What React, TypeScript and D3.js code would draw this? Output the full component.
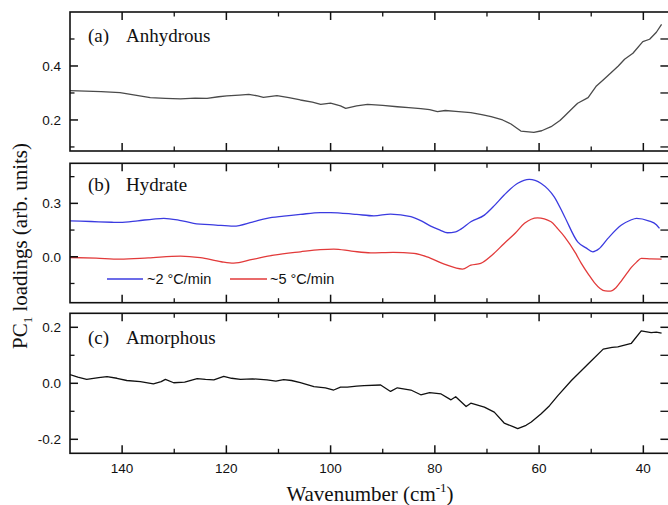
import React from "react";
import * as d3 from "d3";

// ---------- data (wavenumber cm^-1, PC1 loading) ----------
const anhydrousWave = [150, 147, 144, 140.4, 137.5, 134.6, 131.7, 128.8, 126, 123.7, 121.5, 119.9, 117.5, 115.7, 114, 112.9, 110.3, 108, 105.8, 103.5, 101.9, 100, 98.1, 97.1, 95, 92.9, 90, 87.2, 85, 82.7, 81, 79.5, 78, 76, 73.1, 71, 69.2, 67, 65.4, 63.5, 61, 59.5, 57.7, 56, 55.1, 53.5, 52.6, 50.6, 49, 47.5, 46.2, 44.8, 43.6, 42, 40.1, 38.8, 37.5, 36.5];
const anhydrousVal = [0.309, 0.307, 0.305, 0.301, 0.292, 0.283, 0.28, 0.278, 0.281, 0.28, 0.286, 0.289, 0.292, 0.295, 0.289, 0.284, 0.29, 0.283, 0.274, 0.266, 0.258, 0.262, 0.252, 0.243, 0.252, 0.258, 0.254, 0.249, 0.246, 0.242, 0.238, 0.231, 0.235, 0.232, 0.227, 0.22, 0.212, 0.2, 0.185, 0.159, 0.154, 0.16, 0.175, 0.198, 0.215, 0.245, 0.262, 0.283, 0.326, 0.352, 0.375, 0.4, 0.425, 0.447, 0.49, 0.499, 0.525, 0.554];

const hydrate2Wave = [150, 146, 142, 140.4, 137, 134, 132, 129, 126.3, 122, 118.6, 115, 112.2, 109, 105.8, 102, 100, 98.1, 95, 91.7, 88.5, 84.6, 82.5, 80.8, 79, 77.6, 76, 75, 73.1, 70.5, 68.5, 66.7, 64.1, 61.9, 59.6, 58.3, 57.1, 55.1, 52.6, 51, 49.7, 48.5, 46.8, 44.2, 42.5, 41.3, 39, 37.5, 36.9];
const hydrate2Val = [0.202, 0.198, 0.194, 0.193, 0.202, 0.212, 0.216, 0.205, 0.188, 0.178, 0.172, 0.195, 0.216, 0.228, 0.238, 0.248, 0.248, 0.245, 0.238, 0.23, 0.24, 0.225, 0.2, 0.172, 0.15, 0.135, 0.14, 0.155, 0.197, 0.234, 0.29, 0.347, 0.413, 0.435, 0.412, 0.38, 0.337, 0.225, 0.084, 0.05, 0.028, 0.045, 0.103, 0.178, 0.205, 0.216, 0.202, 0.18, 0.159];

const hydrate5Wave = [150, 145, 140.4, 135, 128.8, 125, 121, 118.6, 115, 110.9, 105.8, 102, 99.4, 96, 92.3, 88, 84, 81.5, 78.2, 74.7, 73.1, 71.2, 69, 66.7, 64.5, 62.8, 60.3, 57.7, 56.5, 55.1, 53, 51.9, 50.5, 49.4, 48.3, 47.3, 46.3, 45.3, 44.2, 43.2, 42.3, 41.3, 40.4, 38.5, 36.5];
const hydrate5Val = [-0.004, -0.008, -0.013, -0.006, 0.004, -0.005, -0.028, -0.036, -0.015, 0.009, 0.028, 0.04, 0.043, 0.032, 0.022, 0.025, 0.019, 0.0, -0.041, -0.069, -0.047, -0.037, 0.01, 0.075, 0.135, 0.188, 0.219, 0.197, 0.16, 0.112, 0.02, -0.037, -0.1, -0.145, -0.178, -0.192, -0.193, -0.175, -0.135, -0.095, -0.06, -0.03, -0.009, -0.012, -0.013];

const amorphousWave = [150, 148.5, 146.8, 144.5, 142.9, 141, 139.1, 136.5, 134, 132.5, 131.7, 130.1, 128, 125.6, 124, 122.4, 120.5, 119, 117.3, 115, 112.2, 110.5, 109, 107.5, 105.8, 103.2, 101, 99.4, 98.1, 96.8, 95, 93.6, 90.4, 88.5, 87.2, 84.6, 82.7, 81, 78.8, 76.9, 76, 74, 73.1, 70.5, 68.6, 66.7, 65, 64.1, 62.5, 61.5, 59.6, 58, 56.4, 53.8, 50.6, 47.7, 46, 44.9, 42.3, 40.4, 38.5, 37.5, 36.5];
const amorphousVal = [0.031, 0.022, 0.014, 0.02, 0.024, 0.018, 0.01, 0.006, -0.002, 0.006, 0.014, 0.002, 0.004, 0.017, 0.014, 0.012, 0.025, 0.018, 0.014, 0.016, 0.012, 0.008, 0.013, 0.01, 0.002, -0.012, -0.016, -0.024, -0.014, -0.014, -0.01, -0.008, -0.006, -0.029, -0.016, -0.024, -0.041, -0.033, -0.038, -0.059, -0.048, -0.083, -0.071, -0.085, -0.103, -0.142, -0.155, -0.162, -0.15, -0.138, -0.109, -0.08, -0.044, 0.01, 0.069, 0.122, 0.128, 0.13, 0.143, 0.187, 0.181, 0.183, 0.179];

const xMajorTicks = [140, 120, 100, 80, 60, 40];
const xMinorTicks = [130, 110, 90, 70, 50];
const xTickLabels = ["140", "120", "100", "80", "60", "40"];

const panelLabels = ["(a)", "(b)", "(c)"];
const panelNames = ["Anhydrous", "Hydrate", "Amorphous"];
const legendLabels = ["~2 \u00B0C/min", "~5 \u00B0C/min"];

const aMajor = [0.2, 0.4];
const aMinor = [0.1, 0.3, 0.5];
const aLabels = ["0.2", "0.4"];
const bMajor = [0.0, 0.3];
const bMinor = [-0.15, 0.15, 0.45];
const bLabels = ["0.0", "0.3"];
const cMajor = [-0.2, 0.0, 0.2];
const cMinor = [-0.1, 0.1];
const cLabels = ["-0.2", "0.0", "0.2"];

// ---------- layout ----------
const W = 668;
const H = 505;
const LEFT = 70;
const x = d3.scaleLinear().domain([150, 35]).range([LEFT, 669.4]);

const panels = [
  { top: 12, bottom: 151, domain: [0.085, 0.6], major: aMajor, minor: aMinor, labels: aLabels, labelY: 42 },
  { top: 163.3, bottom: 302.7, domain: [-0.258, 0.525], major: bMajor, minor: bMinor, labels: bLabels, labelY: 190.7 },
  { top: 313.3, bottom: 453.3, domain: [-0.25, 0.25], major: cMajor, minor: cMinor, labels: cLabels, labelY: 344 },
];

const series = [
  { panel: 0, wave: anhydrousWave, val: anhydrousVal, color: "#4a4a4a", curve: d3.curveLinear },
  { panel: 1, wave: hydrate2Wave, val: hydrate2Val, color: "#3b3be0", curve: d3.curveMonotoneX },
  { panel: 1, wave: hydrate5Wave, val: hydrate5Val, color: "#e23a3a", curve: d3.curveMonotoneX },
  { panel: 2, wave: amorphousWave, val: amorphousVal, color: "#111111", curve: d3.curveLinear },
];

const SANS = "'Liberation Sans', Arial, sans-serif";
const SERIF = "'Liberation Serif', 'Times New Roman', serif";

export default function App() {
  const xr = x.range();
  return (
    <svg width={W} height={H} style={{ position: "absolute", left: 0, top: 0, background: "#fff" }}>
      <rect x={0} y={0} width={W} height={H} fill="#fff" />
      {panels.map((p, i) => {
        const y = d3.scaleLinear().domain(p.domain).range([p.bottom, p.top]);
        const panelSeries = series.filter((s) => s.panel === i);
        return (
          <g key={i}>
            <defs>
              <clipPath id={`clip${i}`}>
                <rect x={xr[0]} y={p.top} width={xr[1] - xr[0]} height={p.bottom - p.top} />
              </clipPath>
            </defs>
            {panelSeries.map((s, k) => {
              const pts = s.wave.map((w, j) => [w, s.val[j]] as [number, number]);
              const line = d3
                .line<[number, number]>()
                .x((d) => x(d[0]))
                .y((d) => y(d[1]))
                .curve(s.curve);
              return (
                <path
                  key={k}
                  d={line(pts) || ""}
                  fill="none"
                  stroke={s.color}
                  strokeWidth={1.3}
                  strokeLinejoin="round"
                  clipPath={`url(#clip${i})`}
                />
              );
            })}
            {/* frame */}
            <rect
              x={xr[0]}
              y={p.top}
              width={xr[1] - xr[0]}
              height={p.bottom - p.top}
              fill="none"
              stroke="#111"
              strokeWidth={1.6}
            />
            {/* x ticks top & bottom */}
            {xMajorTicks.map((t) => (
              <g key={`xM${t}`} stroke="#111" strokeWidth={1.5}>
                <line x1={x(t)} x2={x(t)} y1={p.bottom} y2={p.bottom - 8} />
                <line x1={x(t)} x2={x(t)} y1={p.top} y2={p.top + 8} />
              </g>
            ))}
            {xMinorTicks.map((t) => (
              <g key={`xm${t}`} stroke="#111" strokeWidth={1.3}>
                <line x1={x(t)} x2={x(t)} y1={p.bottom} y2={p.bottom - 4.5} />
                <line x1={x(t)} x2={x(t)} y1={p.top} y2={p.top + 4.5} />
              </g>
            ))}
            {/* y ticks */}
            {p.major.map((t, k) => (
              <g key={`yM${k}`}>
                <line x1={xr[0]} x2={xr[0] + 8} y1={y(t)} y2={y(t)} stroke="#111" strokeWidth={1.5} />
                <line x1={xr[1] - 9} x2={xr[1]} y1={y(t)} y2={y(t)} stroke="#111" strokeWidth={1.5} />
                <text
                  x={61}
                  y={y(t) + 4.8}
                  textAnchor="end"
                  fontFamily={SANS}
                  fontSize={13.5}
                  fill="#111"
                >
                  {p.labels[k]}
                </text>
              </g>
            ))}
            {p.minor.map((t, k) => (
              <g key={`ym${k}`} stroke="#111" strokeWidth={1.3}>
                <line x1={xr[0]} x2={xr[0] + 4.5} y1={y(t)} y2={y(t)} />
                <line x1={xr[1] - 9} x2={xr[1]} y1={y(t)} y2={y(t)} />
              </g>
            ))}
            {/* panel label */}
            <text x={88} y={p.labelY} fontFamily={SERIF} fontSize={19} fill="#111">
              {panelLabels[i]}
            </text>
            <text x={126} y={p.labelY} fontFamily={SERIF} fontSize={19} fill="#111">
              {panelNames[i]}
            </text>
          </g>
        );
      })}
      {/* legend in panel b */}
      <g>
        <line x1={107} x2={143} y1={279} y2={279} stroke="#3b3be0" strokeWidth={1.3} />
        <text x={147} y={284} fontFamily={SANS} fontSize={14.5} fill="#111">
          {legendLabels[0]}
        </text>
        <line x1={230} x2={267} y1={279} y2={279} stroke="#e23a3a" strokeWidth={1.3} />
        <text x={270} y={284} fontFamily={SANS} fontSize={14.5} fill="#111">
          {legendLabels[1]}
        </text>
      </g>
      {/* x tick labels */}
      {xMajorTicks.map((t, k) => (
        <text key={`xl${t}`} x={x(t)} y={473} textAnchor="middle" fontFamily={SANS} fontSize={13.5} fill="#111">
          {xTickLabels[k]}
        </text>
      ))}
      {/* axis titles */}
      <text x={370} y={501} textAnchor="middle" fontFamily={SERIF} fontSize={21} fill="#111">
        Wavenumber (cm
        <tspan fontSize={13} dy={-9}>-1</tspan>
        <tspan dy={9}>)</tspan>
      </text>
      <text
        transform="translate(27,246) rotate(-90)"
        textAnchor="middle"
        fontFamily={SERIF}
        fontSize={21}
        fill="#111"
      >
        PC
        <tspan fontSize={13} dy={5}>1</tspan>
        <tspan dy={-5}> loadings (arb. units)</tspan>
      </text>
    </svg>
  );
}
